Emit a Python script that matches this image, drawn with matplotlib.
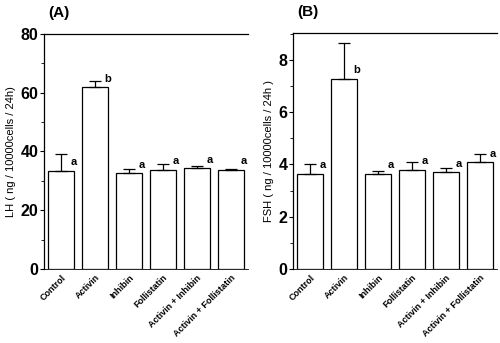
import numpy as np
import matplotlib.pyplot as plt
from matplotlib.ticker import MultipleLocator

plt.rcParams['font.family'] = ['Liberation Sans', 'DejaVu Sans']

groups = ['Control', 'Activin', 'Inhibin', 'Follistatin',
          'Activin + Inhibin', 'Activin + Follistatin']

lh_mean = [33.5, 62.0, 32.5, 33.8, 34.2, 33.8]
lh_err = [5.5, 2.0, 1.5, 2.0, 0.8, 0.2]
lh_sig = ['a', 'b', 'a', 'a', 'a', 'a']

fsh_mean = [3.65, 7.28, 3.65, 3.8, 3.7, 4.1]
fsh_err = [0.35, 1.35, 0.1, 0.28, 0.15, 0.28]
fsh_sig = ['a', 'b', 'a', 'a', 'a', 'a']


def panel(ax, mean, err, sig, ymax, major, minor, ylabel, title):
    x = np.arange(len(groups))
    ax.bar(x, mean, width=0.78, color='white', edgecolor='black', linewidth=0.9)
    ax.errorbar(x, mean, yerr=[np.zeros(len(err)), err], fmt='none',
                ecolor='black', elinewidth=0.9, capsize=4, capthick=0.9)
    for xi, m, s in zip(x, mean, sig):
        ax.text(xi + 0.28, m + 0.035 * ymax, s, fontsize=8, fontweight='bold',
                ha='left', va='center')
    ax.set_xlim(-0.5, len(groups) - 0.5)
    ax.set_ylim(0, ymax)
    ax.yaxis.set_major_locator(MultipleLocator(major))
    ax.yaxis.set_minor_locator(MultipleLocator(minor))
    ax.set_xticks(x)
    ax.set_xticklabels(groups, rotation=45, ha='right', rotation_mode='anchor',
                       fontsize=6.5, fontweight='bold')
    ax.tick_params(axis='x', length=0, pad=3)
    ax.tick_params(axis='y', which='major', length=3, labelsize=11.5, pad=1)
    for lab in ax.get_yticklabels():
        lab.set_fontweight('bold')
    ax.tick_params(axis='y', which='minor', length=2)
    ax.spines['right'].set_visible(False)
    ax.spines['bottom'].set_linewidth(0.6)
    ax.spines['left'].set_linewidth(0.9)
    ax.spines['top'].set_linewidth(0.9)
    ax.set_ylabel(ylabel, fontsize=8, labelpad=3)
    ax.text(0.02, 1.06, title, transform=ax.transAxes, fontsize=11,
            fontweight='bold', ha='left', va='bottom')


fig = plt.figure(figsize=(5.0, 3.43), dpi=100)
ax1 = fig.add_axes([0.088, 0.216, 0.408, 0.685])
ax2 = fig.add_axes([0.586, 0.216, 0.408, 0.688])

panel(ax1, lh_mean, lh_err, lh_sig, 80, 20, 10,
      'LH ( ng / 10000cells / 24h)', '(A)')
panel(ax2, fsh_mean, fsh_err, fsh_sig, 9.03, 2, 1,
      'FSH ( ng / 10000cells / 24h )', '(B)')

fig.savefig('out.png', dpi=100)
